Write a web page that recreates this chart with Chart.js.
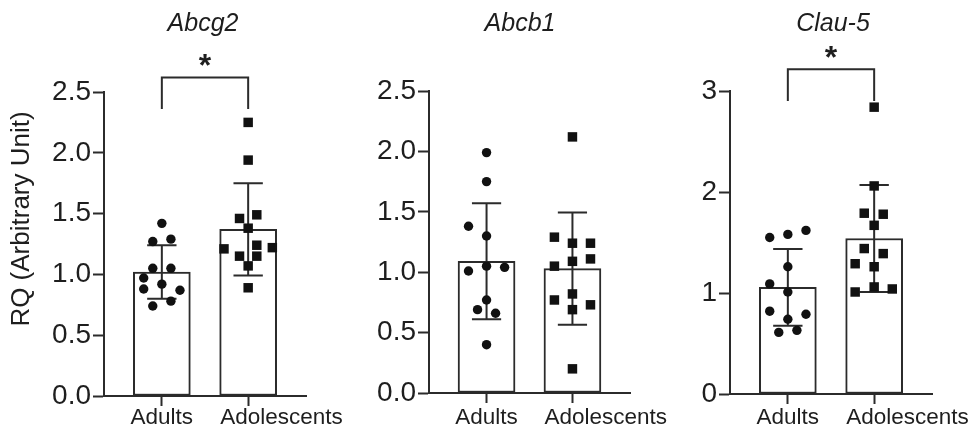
<!DOCTYPE html>
<html>
<head>
<meta charset="utf-8">
<script src="https://cdn.jsdelivr.net/npm/chart.js@4"></script>
<style>
  body { margin: 0; background: #fff; }
  #wrap { position: relative; width: 971px; height: 431px; }
  canvas { position: absolute; left: 0; top: 0; }
</style>
</head>
<body>
<div id="wrap">
  <canvas id="abcg2" width="971" height="431"></canvas>
  <canvas id="abcb1" width="971" height="431"></canvas>
  <canvas id="clau5" width="971" height="431"></canvas>
</div>
<script>
// group labels on the x axis
const groups = ['Adults', 'Adolescents']

// Abcg2
const abcg2Means = [1.02, 1.37]
const abcg2Sd = [0.22, 0.38]
const abcg2Adults = [1.42, 1.27, 1.29, 1.05, 1.05, 0.97, 0.92, 0.88, 0.87, 0.78, 0.74]
const abcg2AdultsJitter = [0, -0.105, 0.105, -0.105, 0.105, -0.21, 0, -0.21, 0.21, 0.105, -0.105]
const abcg2Adolescents = [2.25, 1.94, 1.46, 1.49, 1.38, 1.21, 1.24, 1.22, 1.15, 1.15, 1.07, 0.89]
const abcg2AdolescentsJitter = [0, 0, -0.1, 0.1, 0, -0.28, 0.1, 0.28, -0.1, 0.1, 0, 0]
const abcg2Bracket = [2.36, 2.62]

// Abcb1
const abcb1Means = [1.09, 1.03]
const abcb1Sd = [0.48, 0.465]
const abcb1Adults = [1.99, 1.75, 1.38, 1.30, 1.01, 1.05, 1.04, 0.77, 0.69, 0.66, 0.40]
const abcb1AdultsJitter = [0, 0, -0.21, 0, -0.21, 0, 0.21, 0, -0.105, 0.105, 0]
const abcb1Adolescents = [2.12, 1.29, 1.24, 1.24, 1.09, 1.05, 1.11, 0.82, 0.77, 0.73, 0.69, 0.20]
const abcb1AdolescentsJitter = [0, -0.21, 0, 0.21, 0, -0.21, 0.21, 0, -0.21, 0.21, 0, 0]

// Clau-5
const clau5Means = [1.055, 1.54]
const clau5Sd = [0.38, 0.53]
const clau5Adults = [1.55, 1.58, 1.62, 1.26, 1.09, 1.01, 0.82, 0.79, 0.74, 0.61, 0.63]
const clau5AdultsJitter = [-0.21, 0, 0.21, 0, -0.21, 0, -0.21, 0.21, 0, -0.105, 0.105]
const clau5Adolescents = [2.84, 2.06, 1.79, 1.78, 1.67, 1.44, 1.39, 1.29, 1.26, 1.06, 1.01, 1.04]
const clau5AdolescentsJitter = [0, 0, -0.115, 0.105, 0, -0.115, 0.105, -0.22, 0, 0, -0.22, 0.21]
const clau5Bracket = [2.90, 3.215]

const W = 971, H = 431
const INK = '#2b2b2b'
const TEXT = '#1e1e1e'
const FONT = "'Liberation Sans', Arial, Helvetica, sans-serif"
const CAP = 0.17

Chart.defaults.font.family = FONT
Chart.defaults.color = TEXT

function points(values, jitter, group) {
    return values.map((v, i) => ({x: group + jitter[i], y: v}))
}

function errorBars(means, sds) {
    let pts = []
    means.forEach((m, i) => {
        let hi = m + sds[i], lo = m - sds[i]
        pts.push({x: i - CAP, y: hi}, {x: i + CAP, y: hi}, {x: i, y: null})
        pts.push({x: i, y: hi}, {x: i, y: lo}, {x: i, y: null})
        pts.push({x: i - CAP, y: lo}, {x: i + CAP, y: lo}, {x: i, y: null})
    })
    return pts
}

// titles, asterisks, group names and the y title are drawn on top of the chart
// (the long group name sits right of its tick, as in the original figure)
const labels = {
    id: 'labels',
    afterDraw(chart, args, o) {
        const ctx = chart.ctx
        const area = chart.chartArea
        const x = chart.scales.x, y = chart.scales.y
        ctx.save()
        ctx.fillStyle = TEXT
        ctx.textAlign = 'center'
        ctx.textBaseline = 'alphabetic'
        ctx.font = 'italic 25px ' + FONT
        ctx.fillText(o.title, area.left + o.titleX, 31)

        ctx.font = '22.5px ' + FONT
        ctx.fillText(groups[0], x.getPixelForValue(0), 424)
        ctx.textAlign = 'left'
        ctx.fillText(groups[1], x.getPixelForValue(1) - 28, 424)
        ctx.textAlign = 'center'

        if (o.star) {
            ctx.font = 'bold 32px ' + FONT
            ctx.fillText('*', x.getPixelForValue(0.5), y.getPixelForValue(o.star) - 1)
        }
        if (o.yTitle) {
            ctx.translate(22, 219)
            ctx.rotate(-Math.PI / 2)
            ctx.font = '26px ' + FONT
            ctx.textBaseline = 'middle'
            ctx.fillText(o.yTitle, 0, 0)
        }
        ctx.restore()
    }
}

function panel(id, p) {
    let datasets = [
        {
            type: 'scatter',
            data: points(p.adults, p.adultsJitter, 0),
            pointStyle: 'circle',
            pointRadius: 4.7,
            backgroundColor: '#111',
            borderWidth: 0,
            order: 0
        },
        {
            type: 'scatter',
            data: points(p.adolescents, p.adolescentsJitter, 1),
            pointStyle: 'rect',
            pointRadius: 6.7,
            backgroundColor: '#111',
            borderWidth: 0,
            order: 0
        },
        {
            type: 'line',
            data: errorBars(p.means, p.sd),
            borderColor: INK,
            borderWidth: 2,
            pointRadius: 0,
            spanGaps: false,
            order: 1
        },
        {
            type: 'bar',
            data: p.means.map((m, i) => ({x: i, y: m})),
            backgroundColor: '#fff',
            borderColor: INK,
            borderWidth: 2,
            borderSkipped: false,
            barThickness: 57,
            order: 2
        }
    ]
    if (p.bracket) {
        datasets.push({
            type: 'line',
            data: [{x: 0, y: p.bracket[0]}, {x: 0, y: p.bracket[1]}, {x: 1, y: p.bracket[1]}, {x: 1, y: p.bracket[0]}],
            borderColor: INK,
            borderWidth: 2,
            pointRadius: 0,
            clip: false,
            order: 1
        })
    }

    return new Chart(document.getElementById(id), {
        type: 'bar',
        data: {datasets: datasets},
        plugins: [labels],
        options: {
            responsive: false,
            animation: false,
            events: [],
            layout: {
                padding: {left: p.left - 60, right: W - p.right, top: p.top, bottom: 0}
            },
            scales: {
                x: {
                    type: 'linear',
                    min: -0.67,
                    max: 1.67,
                    offset: false,
                    afterFit: (s) => { s.height = H - p.bottom },
                    afterBuildTicks: (s) => { s.ticks = [{value: 0}, {value: 1}] },
                    grid: {display: true, drawOnChartArea: false, offset: false, tickLength: 10, tickColor: INK, tickWidth: 2},
                    border: {color: INK, width: 2},
                    ticks: {display: false}
                },
                y: {
                    min: 0,
                    max: p.max,
                    afterFit: (s) => { s.width = 60 },
                    grid: {display: true, drawOnChartArea: false, tickLength: 11, tickColor: INK, tickWidth: 2},
                    border: {color: INK, width: 2},
                    ticks: {
                        stepSize: p.step,
                        callback: p.fmt,
                        font: {size: 28},
                        padding: 2
                    }
                }
            },
            plugins: {
                legend: {display: false},
                tooltip: {enabled: false},
                labels: {title: p.title, titleX: p.titleX, star: p.star, yTitle: p.yTitle}
            }
        }
    })
}

panel('abcg2', {
    title: 'Abcg2', titleX: 99, yTitle: 'RQ (Arbitrary Unit)',
    means: abcg2Means, sd: abcg2Sd,
    adults: abcg2Adults, adultsJitter: abcg2AdultsJitter,
    adolescents: abcg2Adolescents, adolescentsJitter: abcg2AdolescentsJitter,
    bracket: abcg2Bracket, star: abcg2Bracket[1],
    max: 2.5, step: 0.5, fmt: (v) => v.toFixed(1),
    left: 104, right: 306, top: 92, bottom: 396
})

panel('abcb1', {
    title: 'Abcb1', titleX: 91,
    means: abcb1Means, sd: abcb1Sd,
    adults: abcb1Adults, adultsJitter: abcb1AdultsJitter,
    adolescents: abcb1Adolescents, adolescentsJitter: abcb1AdolescentsJitter,
    max: 2.5, step: 0.5, fmt: (v) => v.toFixed(1),
    left: 429, right: 630, top: 91, bottom: 393
})

panel('clau5', {
    title: 'Clau-5', titleX: 103,
    means: clau5Means, sd: clau5Sd,
    adults: clau5Adults, adultsJitter: clau5AdultsJitter,
    adolescents: clau5Adolescents, adolescentsJitter: clau5AdolescentsJitter,
    bracket: clau5Bracket, star: clau5Bracket[1],
    max: 3, step: 1, fmt: (v) => v.toFixed(0),
    left: 730, right: 932, top: 91, bottom: 394
})
</script>
</body>
</html>
